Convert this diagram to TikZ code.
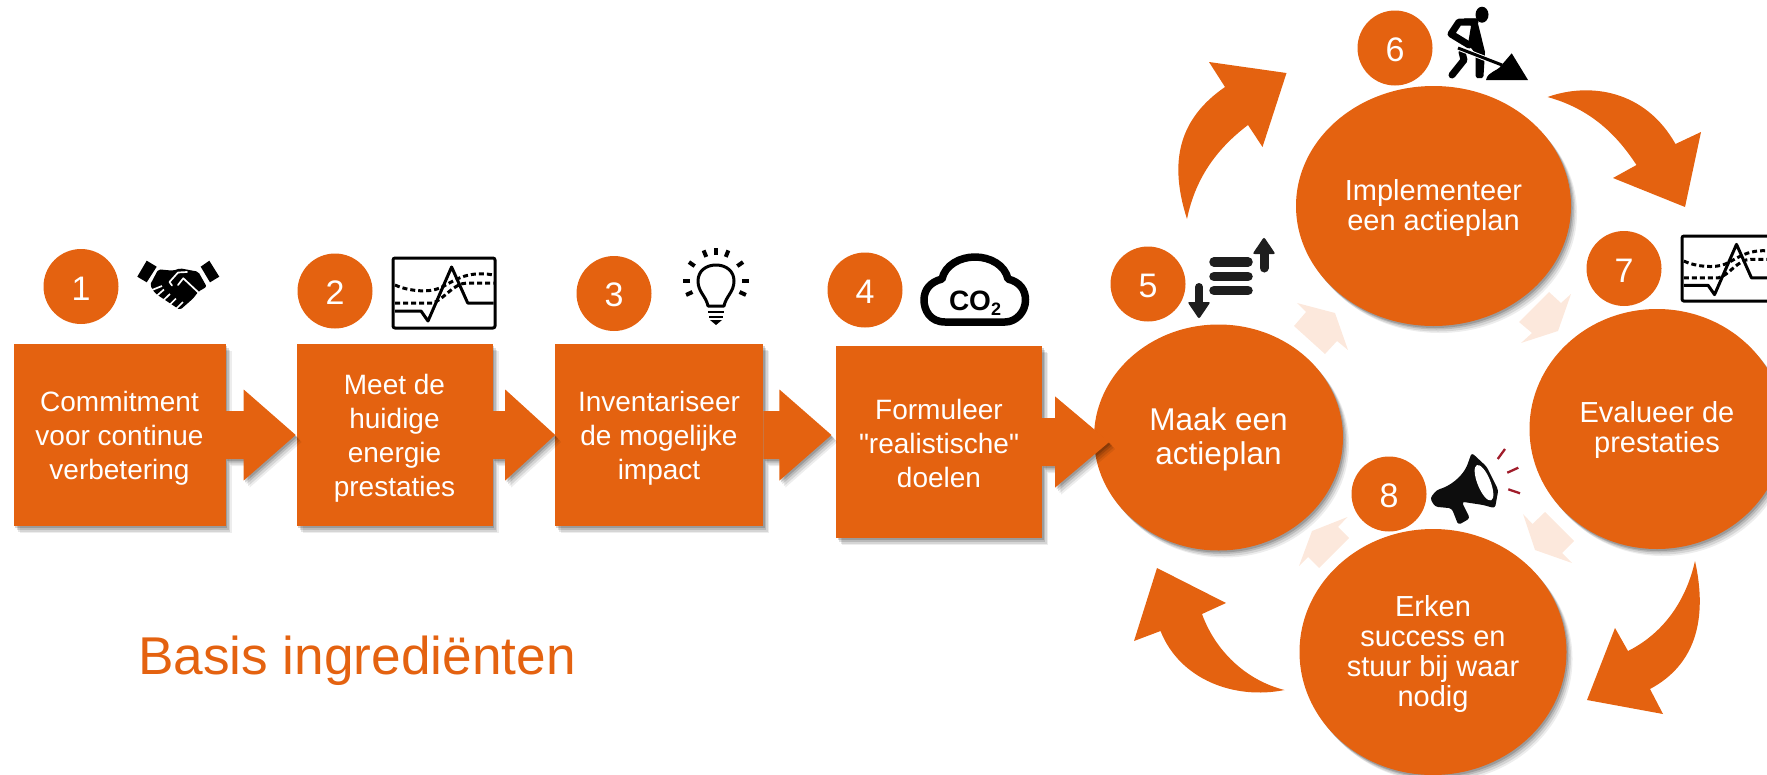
\documentclass[tikz,border=0pt]{standalone}
\usepackage{fontspec}
\setmainfont{Liberation Sans}
\newfontfamily\rechtfont{Liberation Sans}
\usetikzlibrary{shapes.geometric,shadows}
\definecolor{oranje}{HTML}{E46210}
\definecolor{bleek}{HTML}{FCE8DC}
\definecolor{donker}{HTML}{1E1E1E}
\definecolor{rood}{HTML}{A01C2A}
\tikzset{
  schaduw/.style={drop shadow={shadow xshift=6pt,shadow yshift=-7pt,fill=black,opacity=.07},
    drop shadow={shadow xshift=4.5pt,shadow yshift=-5.5pt,fill=black,opacity=.1},
    drop shadow={shadow xshift=3pt,shadow yshift=-3.5pt,fill=black,opacity=.13},
    drop shadow={shadow xshift=1.5pt,shadow yshift=-2pt,fill=black,opacity=.16}},
  stap/.style={rectangle,fill=oranje,schaduw,text=white,align=center,inner sep=0pt,minimum height=182pt,font=\fontsize{28}{34}\selectfont},
  bol/.style={ellipse,fill=oranje,schaduw,text=white,align=center,inner sep=0pt,font=\fontsize{29}{30}\selectfont},
  nummer/.style={circle,fill=oranje,text=white,inner sep=0pt,minimum size=75pt,font=\fontsize{34}{34}\selectfont},
  pijl/.style={fill=oranje,schaduw},
  boog/.style={fill=oranje},
  bleekpijl/.style={fill=bleek},
  icoon/.style={line width=3pt,line join=round,black}
}
\newcommand{\zak}[1]{\rule{0pt}{#1}}
\newcommand{\blokpijl}[3]{\fill[pijl,shift={(#1)}] (0,-24) -- (#2,-24) -- (#2,-45.5) -- (#3,0) -- (#2,45.5) -- (#2,24) -- (0,24) -- cycle;}
\newcommand{\grafiek}[3]{
\begin{scope}[shift={(#1,#2)},scale=#3]
\draw[icoon,rounded corners=2pt] (0,0) rectangle (102,70);
\draw[icoon] (2,53) -- (28,53) -- (35,63) -- (58.6,9) -- (74.7,45) -- (100.7,45);
\draw[icoon,dash pattern=on 5pt off 3pt] (2,27) .. controls (15,33) and (35,35) .. (47,30) .. controls (60,24) and (72,12) .. (100.7,17);
\draw[icoon,dash pattern=on 5pt off 3pt] (2,45) -- (39,45) .. controls (50,43) and (60,25) .. (74,25) -- (100.7,25);
\end{scope}}
\begin{document}
\begin{tikzpicture}[x=1pt,y=-1pt]
\clip (0,0) rectangle (1767,774);

\node[bol,minimum width=249pt,minimum height=226pt,font=\fontsize{31.5}{34}\selectfont] (maak) at (1218.5,437.5) {\zak{27pt}Maak een\\actieplan};
\node[bol,minimum width=275pt,minimum height=240pt] (impl) at (1433.5,206) {\zak{25pt}Implementeer\\een actieplan};
\node[bol,minimum width=255pt,minimum height=240pt] (eval) at (1657,429) {\zak{23pt}Evalueer de\\prestaties};
\node[bol,minimum width=267pt,minimum height=246pt] (erken) at (1433,652) {\zak{25pt}Erken\\success en\\stuur bij waar\\nodig};

\node[stap,minimum width=212pt] (box1) at (119.5,435) {\zak{27pt}Commitment\\voor continue\\verbetering};
\node[stap,minimum width=196pt] (box2) at (394.5,435) {\zak{27pt}Meet de\\huidige\\energie\\prestaties};
\node[stap,minimum width=208.5pt] (box3) at (659,435) {\zak{27pt}Inventariseer\\de mogelijke\\impact};
\node[stap,minimum width=206pt,minimum height=192pt] (box4) at (939,442) {\zak{23pt}Formuleer\\{\rechtfont"}realistische{\rechtfont"}\\doelen};

\blokpijl{box1.east}{18}{70}
\blokpijl{box2.east}{12.5}{62.5}
\blokpijl{box3.east}{16}{68}
\blokpijl{box4.east}{13}{67}

\node[nummer] (num1) at (81,286.5) {\zak{27pt}1};
\node[nummer] (num2) at (335,291) {\zak{27pt}2};
\node[nummer] (num3) at (614,293.5) {\zak{27pt}3};
\node[nummer] (num4) at (865,290) {\zak{27pt}4};
\node[nummer] (num5) at (1148,284) {\zak{27pt}5};
\node[nummer] (num6) at (1395,48) {\zak{27pt}6};
\node[nummer] (num7) at (1624,268.5) {\zak{27pt}7};
\node[nummer] (num8) at (1389,494) {\zak{27pt}8};

\node[text=oranje,inner sep=0pt,font=\fontsize{53.2}{54}\selectfont] (titel) at (357,661) {Basis ingredi\"enten};

\coordinate (staartA) at (1187,219);
\coordinate (puntA) at (1286.5,73);
\coordinate (staartB) at (1547.5,97);
\coordinate (puntB) at (1685,207);
\coordinate (staartC) at (1695,561);
\coordinate (puntC) at (1587,700);
\coordinate (staartD) at (1284.5,690);
\coordinate (puntD) at (1157,568);
\fill[boog] (staartA) .. controls (1168,160) and (1180,118) .. (1225,87) -- (1209,62) -- (puntA) -- (1262.5,147) -- (1248,125) .. controls (1215,150) and (1195,180) .. (staartA) -- cycle;
\fill[boog] (staartB) .. controls (1590,82) and (1645,90) .. (1675.5,144) -- (1701,132) -- (puntB) -- (1613,178) -- (1636.5,165) .. controls (1620,140) and (1595,110) .. (staartB) -- cycle;
\fill[boog] (staartC) .. controls (1708,620) and (1695,665) .. (1650,689) -- (1663,714) -- (puntC) -- (1615,628) -- (1628,651) .. controls (1660,635) and (1685,605) .. (staartC) -- cycle;
\fill[boog] (staartD) .. controls (1235,700) and (1180,680) .. (1160.5,631) -- (1134,641) -- (puntD) -- (1226,603) -- (1202,614) .. controls (1215,650) and (1245,680) .. (staartD) -- cycle;

\fill[bleekpijl] (1297,303) -- (1335,313) -- (1348,350) -- (1337,341) -- (1325,354) -- (1294,326) -- (1306,312) -- cycle;
\fill[bleekpijl] (1571,294) -- (1558,331) -- (1521,343) -- (1532,333) -- (1519,322) -- (1549,292) -- (1561,303) -- cycle;
\fill[bleekpijl] (1523,514) -- (1532.5,524) -- (1545,512) -- (1574,541) -- (1562,553) -- (1572,563) -- (1535,550) -- cycle;
\fill[bleekpijl] (1347.5,517) -- (1338,527) -- (1349,538) -- (1319,568) -- (1308,557) -- (1299,566) -- (1312,531) -- cycle;

% handdruk
\fill (146.7,260.7) -- (156.7,266.7) -- (146.7,282.3) -- (137.3,276.7) -- cycle;
\fill (209.3,260.7) -- (219.3,276.7) -- (210,282.3) -- (200.7,266.7) -- cycle;
\fill[rounded corners=2pt] (158.3,269.3) -- (173.3,270.7) -- (180,268.3) -- (198.3,271.7) -- (206.7,286.7) -- (198.3,291.7) -- (193.3,298.3) -- (180,310) -- (155,293.3) -- (150,285) -- cycle;
\draw[white,line width=1.7pt,line join=round,line cap=round] (172,285.5) -- (169.5,282) -- (178,272.5) -- (187,272) (178,285) -- (183.3,278.3) -- (199,293);
\draw[white,line width=1.7pt] (152,290) -- (162,286) (156,296.5) -- (164,289.5) (161.5,302) -- (170,294) (168,306.5) -- (176,298.5) (175,310) -- (183,302);

\grafiek{393}{258}{1}
\grafiek{1682}{236}{.93}

% lamp
\draw[icoon] (708,306) .. controls (706,296) and (698,292) .. (698,281) .. controls (698,271) and (706,265) .. (716,265) .. controls (726,265) and (734,271) .. (734,281) .. controls (734,292) and (726,296) .. (724,306) -- cycle;
\foreach \a in {-180,-145,-112,-90,-68,-35,0,25,155}
  \draw[black,line width=4pt] ([shift={(\a:26)}]716,281) -- ([shift={(\a:33)}]716,281);
\draw[black,line width=2.5pt] (708,312) -- (724,312) (709,317) -- (723,317);
\fill (710,320) -- (722,320) -- (716,325) -- cycle;

% wolk
\draw[black,line width=7.5pt,line join=round] (945,322) .. controls (930,322) and (924,310) .. (924,300) .. controls (924,290) and (930,282) .. (942,279) .. controls (945,265) and (960,257) .. (975,257) .. controls (990,257) and (1005,265) .. (1008,279) .. controls (1020,282) and (1025.5,290) .. (1025.5,300) .. controls (1025.5,312) and (1016,322) .. (1005,322) -- cycle;
\node[inner sep=0pt,font=\fontsize{28}{28}\selectfont\bfseries] (co2) at (975,303) {CO\raisebox{-5pt}{\fontsize{18}{18}\selectfont 2}};

% lijst met pijlen
\foreach \y in {262,276.5,290.5}
  \draw[donker,line width=9.5pt,line cap=round] (1214,\y) -- (1248,\y);
\draw[donker,line width=9pt,line cap=round] (1264,252) -- (1264,268);
\fill[donker,rounded corners=2pt] (1264,237) -- (1275.5,254) -- (1252.5,254) -- cycle;
\draw[donker,line width=8pt,line cap=round] (1199,287) -- (1199,304);
\fill[donker,rounded corners=2pt] (1199,319) -- (1210.5,302) -- (1187.5,302) -- cycle;

% werker
\fill (1482,14.7) ellipse [x radius=6.5,y radius=8];
\draw[black,line width=7pt,line join=round,line cap=round] (1475,22) -- (1459,22) -- (1451,34) -- (1469,45);
\fill (1464,18.3) -- (1476.7,18.3) -- (1485,52) -- (1483.5,76) -- (1482,78) -- (1477,78) -- (1475.7,76) -- (1475.7,54) -- (1468,44) -- (1471,26) -- cycle;
\draw[black,line width=7pt,line join=round,line cap=round] (1462,52) -- (1464,60) -- (1452,75);
\draw[white,line width=5pt] (1458,48) -- (1502,65);
\draw[black,line width=3pt] (1458,48) -- (1502,65);
\fill (1486,80) .. controls (1488,71) and (1497,72) .. (1501.7,65) -- (1511.7,53.3) -- (1528,80) -- cycle;

% megafoon
\fill[black!95,rounded corners=3pt] (1471.7,452.7) -- (1486.7,466.7) -- (1498.3,490) -- (1495,508.3) -- (1483.3,505) -- (1461.7,501.7) -- (1470,518.3) -- (1458.3,525) -- (1451.7,508.3) -- (1435,506.7) -- (1430,498.3) -- (1436.7,490) .. controls (1450,486) and (1460,478) .. (1466.7,466.7) -- cycle;
\fill[white] (1484,482.7) ellipse [x radius=6.5,y radius=19,rotate=22];
\draw[rood,line width=2.3pt] (1497.7,459) -- (1505,449) (1507.3,472.7) -- (1518.3,467.7) (1508.3,489.3) -- (1520,493.3);
\end{tikzpicture}
\end{document}
